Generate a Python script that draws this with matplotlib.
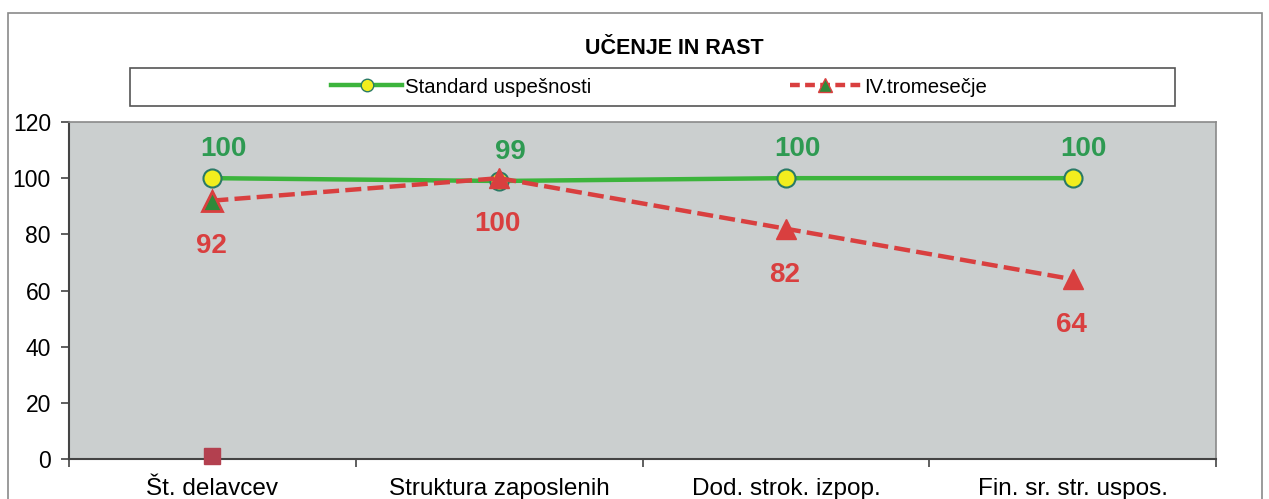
import matplotlib
matplotlib.use("Agg")
import matplotlib.pyplot as plt
from matplotlib.lines import Line2D
from matplotlib.patches import Rectangle

categories = ["Št. delavcev", "Struktura zaposlenih", "Dod. strok. izpop.", "Fin. sr. str. uspos."]
standard = [100, 99, 100, 100]
q4 = [92, 100, 82, 64]
extra_x = [0]
extra_vals = [1]
yticks = [0, 20, 40, 60, 80, 100, 120]
title = "UČENJE IN RAST"
legend_labels = ["Standard uspešnosti", "IV.tromesečje"]

plt.rcParams['font.family'] = ['Liberation Sans', 'DejaVu Sans']

W, H = 1269, 499
fig = plt.figure(figsize=(W / 100, H / 100), dpi=100)
fig.patch.set_facecolor("white")

# outer chart frame
fig.add_artist(Rectangle((8 / W, -0.1), (1262 - 8) / W, (H - 13) / H + 0.1,
                         transform=fig.transFigure, fill=False, edgecolor="#8a8a8a", lw=1.2))

ax = fig.add_axes([69 / W, 1 - 459 / H, (1216 - 69) / W, (459 - 122) / H])
ax.set_facecolor("#cbcfcf")

x = list(range(len(categories)))
green = "#3cb43c"
red = "#d93f3f"

ax.plot(x, standard, color=green, lw=3.2, marker="o", markersize=13,
        markerfacecolor="#f2ee1e", markeredgecolor="#2a7a66", markeredgewidth=1.5, zorder=3)
ax.plot(x, q4, color=red, lw=3.2, dashes=(3.6, 1.4), marker="^", markersize=14,
        markerfacecolor=red, markeredgecolor=red, zorder=4)
ax.plot(x[:1], q4[:1], linestyle="none", marker="^", markersize=14,
        markerfacecolor="#2f8a3a", markeredgecolor=red, markeredgewidth=2, zorder=5)
ax.plot(extra_x, extra_vals, linestyle="none", marker="s", markersize=12,
        color="#b3404f", zorder=5, clip_on=False)

for xi, v in zip(x, standard):
    ax.annotate(str(v), (xi, v), xytext=(8, 21), textcoords="offset points",
                ha="center", va="center", fontsize=20, fontweight="bold",
                color="#2e9a52", fontfamily=["Liberation Sans Narrow", "Liberation Sans"])
for xi, v in zip(x, q4):
    ax.annotate(str(v), (xi, v), xytext=(-1, -33), textcoords="offset points",
                ha="center", va="center", fontsize=20, fontweight="bold",
                color=red, fontfamily=["Liberation Sans Narrow", "Liberation Sans"])

ax.set_xlim(-0.5, len(categories) - 0.5)
ax.set_ylim(0, 120)
ax.set_yticks(yticks)
ax.set_xticks(x)
ax.set_xticklabels(categories, fontsize=17.5)
ax.set_xticks([i - 0.5 for i in range(len(categories) + 1)], minor=True)
ax.tick_params(axis="x", which="major", length=0, pad=14)
ax.tick_params(axis="x", which="minor", length=6, width=1.2, color="#444444", direction="out")
ax.tick_params(axis="y", length=6, width=1.2, color="#444444", labelsize=16.5, pad=7)
for s in ["left", "bottom"]:
    ax.spines[s].set_color("#444444")
    ax.spines[s].set_linewidth(1.5)
for s in ["top", "right"]:
    ax.spines[s].set_color("#8a8a8a")
    ax.spines[s].set_linewidth(1.2)

fig.text(674 / W, 1 - 48 / H, title, ha="center", va="center", fontsize=15.5, fontweight="bold")

# legend box
fig.add_artist(Rectangle((130 / W, 1 - 106 / H), (1175 - 130) / W, (106 - 68) / H,
                         transform=fig.transFigure, facecolor="white", edgecolor="#555555", lw=1.2))
h1 = Line2D([], [], color=green, lw=3.2, marker="o", markersize=9,
            markerfacecolor="#f2ee1e", markeredgecolor="#2a7a66")
h2 = Line2D([], [], color=red, lw=3.2, dashes=(2.2, 1.2), marker="^", markersize=10,
            markerfacecolor="#2f8a3a", markeredgecolor=red)
leg = fig.legend([h1, h2], legend_labels, loc="center", bbox_to_anchor=(659 / W, 1 - 87 / H),
                 ncol=2, frameon=False, fontsize=14.7, handlelength=3.5,
                 columnspacing=9.7, handletextpad=0.15)

fig.savefig("out.png", dpi=100)
